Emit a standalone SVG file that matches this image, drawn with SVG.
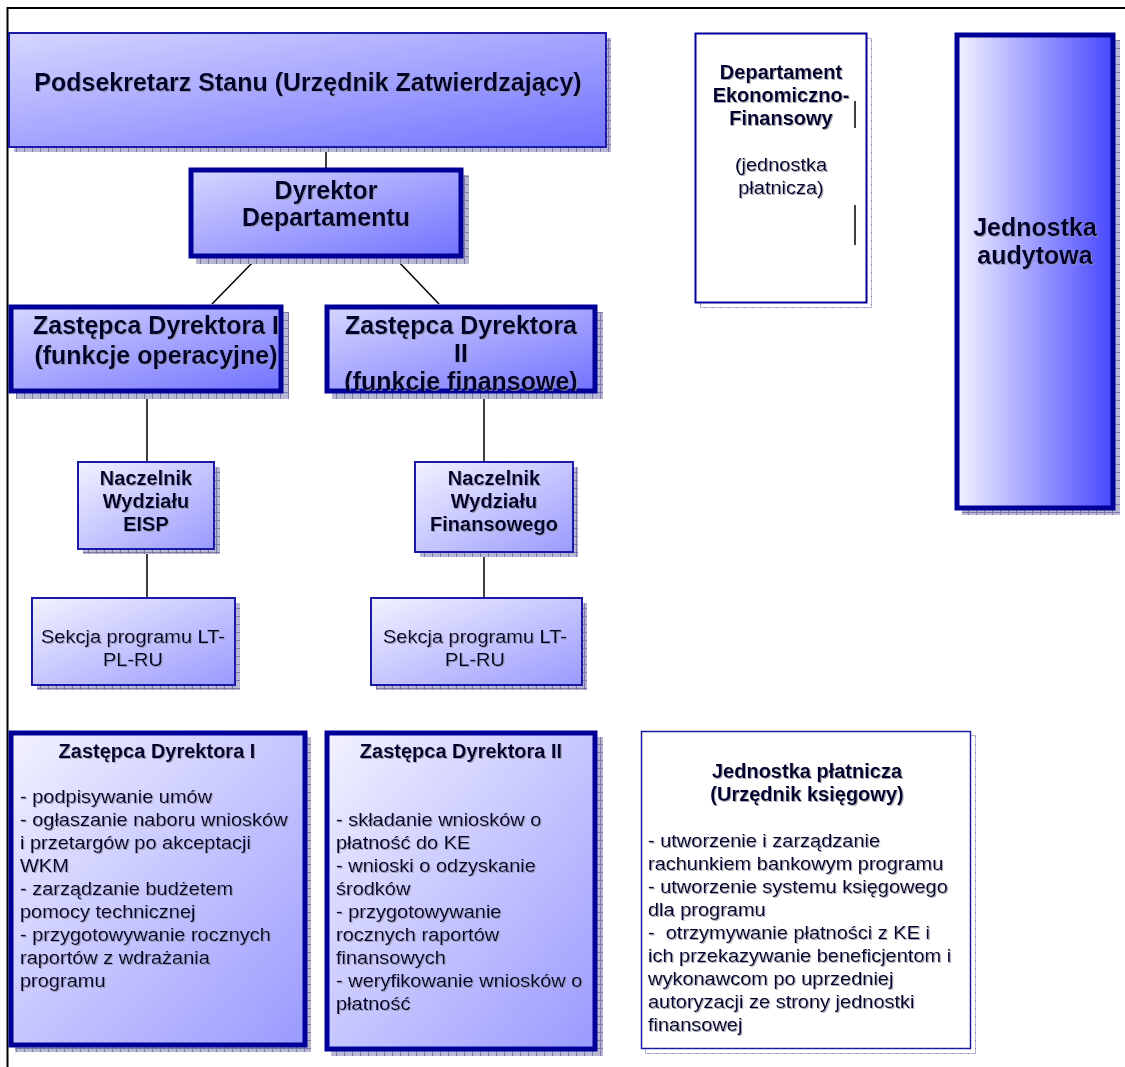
<svg xmlns="http://www.w3.org/2000/svg" width="1125" height="1067" viewBox="0 0 1125 1067">
<style>
text{font-family:"Liberation Sans",Arial,sans-serif;fill:#00002e;}
.b{font-weight:bold;}
.t25{font-size:25px;}
.t20{font-size:20px;}
.t17{font-size:18.5px;}
.c{text-anchor:middle;}
.sh{filter:url(#ts);}
.thick{stroke:#000099;stroke-width:5;}
.thin{stroke:#1a1aa6;stroke-width:2;}
.conn{stroke:#000;stroke-width:1.5;fill:none;}
.shadow{fill:url(#hatch);}
</style>
<defs>
<pattern id="hatch" width="8" height="8" patternUnits="userSpaceOnUse">
<rect width="8" height="8" fill="#b8b8d4"/>
<path d="M0 0.5H8M0.5 0V8" stroke="#7a7aa8" stroke-width="1"/>
</pattern>
<linearGradient id="g1" x1="0" y1="0" x2="1" y2="1">
<stop offset="0" stop-color="#d6d6ff"/>
<stop offset="1" stop-color="#7272ff"/>
</linearGradient>
<linearGradient id="g2" x1="0" y1="0" x2="1" y2="1">
<stop offset="0" stop-color="#f2f2ff"/>
<stop offset="1" stop-color="#9a9aff"/>
</linearGradient>
<linearGradient id="g3" x1="0" y1="0" x2="1" y2="0">
<stop offset="0" stop-color="#f2f2ff"/>
<stop offset="1" stop-color="#4848ff"/>
</linearGradient>
<filter id="ts" x="-5%" y="-20%" width="110%" height="140%">
<feDropShadow dx="1" dy="1" stdDeviation="0.3" flood-color="#9090a0" flood-opacity="0.8"/>
</filter>
<clipPath id="clipZ2"><rect x="327" y="307" width="268" height="84"/></clipPath>
</defs>
<rect width="1125" height="1067" fill="#fff"/>
<path d="M1125 8H7.5V1067" stroke="#000" stroke-width="2" fill="none"/>

<g id="connectors">
<line class="conn" x1="326" y1="147" x2="326" y2="168"/>
<line class="conn" x1="256" y1="259" x2="212" y2="304"/>
<line class="conn" x1="396" y1="259" x2="439" y2="304"/>
<line class="conn" x1="147" y1="394" x2="147" y2="462"/>
<line class="conn" x1="484" y1="394" x2="484" y2="462"/>
<line class="conn" x1="147" y1="550" x2="147" y2="598"/>
<line class="conn" x1="484" y1="553" x2="484" y2="598"/>
</g>

<g id="podsekretarz">
<rect class="shadow" x="14" y="38" width="597" height="114"/>
<rect x="9" y="33" width="597" height="114" fill="url(#g1)" class="thin"/>
<text class="b t25 c sh" x="308" y="91">Podsekretarz Stanu (Urzędnik Zatwierdzający)</text>
</g>

<g id="dyrektor">
<rect class="shadow" x="196" y="175" width="273" height="89"/>
<rect x="191" y="170" width="270" height="86" fill="url(#g1)" class="thick"/>
<text class="b t25 c sh" x="326" y="199">Dyrektor</text>
<text class="b t25 c sh" x="326" y="226">Departamentu</text>
</g>

<g id="zastepca1">
<rect class="shadow" x="16" y="312" width="273" height="87"/>
<rect x="11" y="307" width="270" height="84" fill="url(#g1)" class="thick"/>
<text class="b t25 c sh" x="156" y="334">Zastępca Dyrektora I</text>
<text class="b t25 c sh" x="156" y="364">(funkcje operacyjne)</text>
</g>

<g id="zastepca2">
<rect class="shadow" x="332" y="312" width="271" height="87"/>
<rect x="327" y="307" width="268" height="84" fill="url(#g1)" class="thick"/>
<g clip-path="url(#clipZ2)">
<text class="b t25 c sh" x="461" y="334">Zastępca Dyrektora</text>
<text class="b t25 c sh" x="461" y="362">II</text>
<text class="b t25 c sh" x="461" y="390">(funkcje finansowe)</text>
</g>
</g>

<g id="naczelnik1">
<rect class="shadow" x="83" y="467" width="137" height="87"/>
<rect x="78" y="462" width="136" height="87" fill="url(#g2)" class="thin"/>
<text class="b t20 c sh" x="146" y="485">Naczelnik</text>
<text class="b t20 c sh" x="146" y="508">Wydziału</text>
<text class="b t20 c sh" x="146" y="531">EISP</text>
</g>

<g id="naczelnik2">
<rect class="shadow" x="420" y="467" width="158" height="90"/>
<rect x="415" y="462" width="158" height="90" fill="url(#g2)" class="thin"/>
<text class="b t20 c sh" x="494" y="485">Naczelnik</text>
<text class="b t20 c sh" x="494" y="508">Wydziału</text>
<text class="b t20 c sh" x="494" y="531">Finansowego</text>
</g>

<g id="sekcja1">
<rect class="shadow" x="37" y="603" width="203" height="87"/>
<rect x="32" y="598" width="203" height="87" fill="url(#g2)" class="thin"/>
<g transform="translate(133 0) scale(1.08 1)">
<text class="t17 c sh" x="0" y="643">Sekcja programu LT-</text>
<text class="t17 c sh" x="0" y="666">PL-RU</text>
</g>
</g>

<g id="sekcja2">
<rect class="shadow" x="376" y="603" width="211" height="87"/>
<rect x="371" y="598" width="211" height="87" fill="url(#g2)" class="thin"/>
<g transform="translate(475 0) scale(1.08 1)">
<text class="t17 c sh" x="0" y="643">Sekcja programu LT-</text>
<text class="t17 c sh" x="0" y="666">PL-RU</text>
</g>
</g>

<g id="dep-ekon">
<rect class="shadow" x="700" y="38" width="172" height="270"/>
<rect x="701" y="39" width="170" height="268" fill="#fff"/>
<rect x="695.5" y="33.5" width="171" height="269" fill="#fff" stroke="#000099" stroke-width="2"/>
<text class="b t20 c sh" x="781" y="79">Departament</text>
<text class="b t20 c sh" x="781" y="102">Ekonomiczno-</text>
<text class="b t20 c sh" x="781" y="125">Finansowy</text>
<g transform="translate(781 0) scale(1.08 1)">
<text class="t17 c sh" x="0" y="171">(jednostka</text>
<text class="t17 c sh" x="0" y="194">płatnicza)</text>
</g>
<line x1="855" y1="101" x2="855" y2="128" stroke="#000" stroke-width="1.5"/>
<line x1="855" y1="205" x2="855" y2="245" stroke="#000" stroke-width="1.5"/>
</g>

<g id="audyt">
<rect class="shadow" x="962" y="40" width="158" height="475"/>
<rect x="957" y="35" width="156" height="473" fill="url(#g3)" class="thick"/>
<text class="b t25 c sh" x="1035" y="236">Jednostka</text>
<text class="b t25 c sh" x="1035" y="264">audytowa</text>
</g>

<g id="zad1">
<rect class="shadow" x="15" y="737" width="296" height="315"/>
<rect x="11" y="733" width="294" height="312" fill="url(#g2)" class="thick"/>
<text class="b t20 c sh" x="157" y="758">Zastępca Dyrektora I</text>
<g transform="translate(20 0) scale(1.08 1)">
<text class="t17 sh" x="0" y="803">- podpisywanie umów</text>
<text class="t17 sh" x="0" y="826">- ogłaszanie naboru wniosków</text>
<text class="t17 sh" x="0" y="849">i przetargów po akceptacji</text>
<text class="t17 sh" x="0" y="872">WKM</text>
<text class="t17 sh" x="0" y="895">- zarządzanie budżetem</text>
<text class="t17 sh" x="0" y="918">pomocy technicznej</text>
<text class="t17 sh" x="0" y="941">- przygotowywanie rocznych</text>
<text class="t17 sh" x="0" y="964">raportów z wdrażania</text>
<text class="t17 sh" x="0" y="987">programu</text>
</g>
</g>

<g id="zad2">
<rect class="shadow" x="331" y="737" width="272" height="319"/>
<rect x="327" y="733" width="268" height="316" fill="url(#g2)" class="thick"/>
<text class="b t20 c sh" x="461" y="758">Zastępca Dyrektora II</text>
<g transform="translate(336 0) scale(1.08 1)">
<text class="t17 sh" x="0" y="826">- składanie wniosków o</text>
<text class="t17 sh" x="0" y="849">płatność do KE</text>
<text class="t17 sh" x="0" y="872">- wnioski o odzyskanie</text>
<text class="t17 sh" x="0" y="895">środków</text>
<text class="t17 sh" x="0" y="918">- przygotowywanie</text>
<text class="t17 sh" x="0" y="941">rocznych raportów</text>
<text class="t17 sh" x="0" y="964">finansowych</text>
<text class="t17 sh" x="0" y="987">- weryfikowanie wniosków o</text>
<text class="t17 sh" x="0" y="1010">płatność</text>
</g>
</g>

<g id="jedn-platnicza">
<rect class="shadow" x="645" y="735" width="331" height="319"/>
<rect x="646" y="736" width="329" height="317" fill="#fff"/>
<rect x="641.5" y="731.5" width="329" height="317" fill="#fff" stroke="#1a1aa6" stroke-width="1.5"/>
<text class="b t20 c sh" x="807" y="778">Jednostka płatnicza</text>
<text class="b t20 c sh" x="807" y="801">(Urzędnik księgowy)</text>
<g transform="translate(648 0) scale(1.08 1)">
<text class="t17 sh" x="0" y="847">- utworzenie i zarządzanie</text>
<text class="t17 sh" x="0" y="870">rachunkiem bankowym programu</text>
<text class="t17 sh" x="0" y="893">- utworzenie systemu księgowego</text>
<text class="t17 sh" x="0" y="916">dla programu</text>
<text class="t17 sh" x="0" y="939" xml:space="preserve">-  otrzymywanie płatności z KE i</text>
<text class="t17 sh" x="0" y="962">ich przekazywanie beneficjentom i</text>
<text class="t17 sh" x="0" y="985">wykonawcom po uprzedniej</text>
<text class="t17 sh" x="0" y="1008">autoryzacji ze strony jednostki</text>
<text class="t17 sh" x="0" y="1031">finansowej</text>
</g>
</g>
</svg>
